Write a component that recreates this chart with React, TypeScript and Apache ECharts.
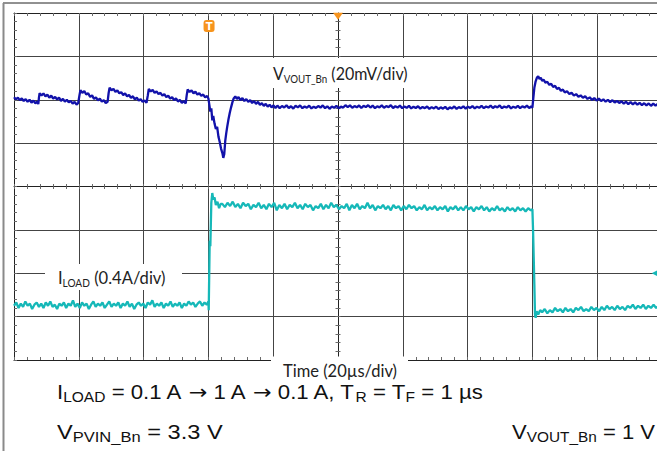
import React, { useEffect, useRef } from "react";
import * as echarts from "echarts";

// Time in µs (20 µs/div), V_VOUT_Bn deviation in mV (20 mV/div)
const voutTrace: number[][] = [
  [0, 1.2], [0.6, 0.2], [1.2, 1.0], [1.8, -0.2], [2.4, 0.6], [3.0, -0.6], [3.6, 0.3], [4.2, -0.9], [4.8, 0.0], [5.4, -1.3], [6.0, -0.4], [6.6, -1.6], [7.2, -0.9], [7.5, -2.0],
  [7.7, 1.0], [7.9, 3.0],
  [8.5, 2.0], [9.1, 2.9], [9.7, 1.6], [10.3, 2.4], [10.9, 1.0], [11.5, 1.9], [12.1, 0.5], [12.7, 1.3], [13.3, 0.1], [13.9, 1.0], [14.5, -0.5], [15.1, 0.4], [15.7, -0.9], [16.3, 0.0], [16.9, -1.2], [17.5, -0.5], [18.1, -1.8], [18.7, -1.0], [19.3, -2.2], [19.8, -1.6],
  [20.2, 2.0], [20.5, 4.4],
  [21.1, 3.2], [21.7, 4.0], [22.3, 2.4], [22.9, 3.0], [23.5, 1.3], [24.1, 2.0], [24.7, 0.4], [25.3, 1.1], [25.9, -0.3], [26.5, 0.5], [27.1, -0.9], [27.7, -0.2], [28.3, -1.5], [28.9, -0.9],
  [29.2, 3.0], [29.5, 5.6],
  [30.1, 4.4], [30.7, 5.0], [31.3, 3.6], [31.9, 4.3], [32.5, 3.0], [33.1, 3.5], [33.7, 2.2], [34.3, 2.9], [34.9, 1.6], [35.5, 2.2], [36.1, 0.9], [36.7, 1.6], [37.3, 0.2], [37.9, 1.0], [38.5, -0.4], [39.1, 0.3], [39.7, -1.0], [40.3, -0.3], [40.9, -1.4],
  [41.3, 2.0], [41.6, 5.0],
  [42.2, 3.8], [42.8, 4.6], [43.4, 3.2], [44.0, 3.9], [44.6, 2.6], [45.2, 3.2], [45.8, 1.9], [46.4, 2.6], [47.0, 1.2], [47.6, 1.9], [48.2, 0.5], [48.8, 1.2], [49.4, -0.2], [50.0, 0.6], [50.6, -0.8], [51.2, -0.1], [51.8, -1.4], [52.4, -0.6], [53.0, -1.7],
  [53.3, 2.0], [53.6, 4.7],
  [54.2, 3.6], [54.8, 4.3], [55.4, 3.0], [56.0, 3.7], [56.6, 2.4], [57.2, 3.0], [57.8, 1.8], [58.4, 2.4], [59.0, 1.1], [59.6, 1.7], [60.0, 0.6],
  [60.3, -2.5], [60.6, -5.5], [60.9, -4.0], [61.2, -9.5], [61.5, -7.5], [61.9, -11.0], [62.3, -13.5], [62.7, -12.5], [63.1, -17.0], [63.5, -19.5], [63.9, -22.5], [64.3, -24.5], [64.6, -26.8], [64.9, -25.0], [65.2, -19.0], [65.5, -15.5], [65.8, -12.5], [66.2, -9.0], [66.6, -6.0], [67.0, -3.5], [67.4, -1.2], [67.8, 0.6], [68.3, 1.5], [68.8, 0.4], [69.3, 1.2], [69.9, -0.2], [70.5, 0.8], [71.1, -0.6], [71.7, 0.3], [72.3, -1.0], [72.9, -0.2], [73.5, -1.5], [74.1, -0.6], [74.7, -1.9], [75.3, -1.0], [75.9, -2.3], [76.5, -1.6], [77.1, -2.8], [77.7, -1.9], [78.3, -3.2], [78.9, -2.3], [79.5, -3.5], [80.1, -2.6], [80.7, -3.8], [81.3, -2.7],
  [82.0, -3.9], [82.7, -2.9], [83.4, -3.6], [84.1, -2.5], [84.8, -3.8], [85.5, -3.0], [86.2, -4.1], [86.9, -2.8], [87.6, -3.5], [88.3, -2.6], [89.0, -3.9], [89.7, -3.1], [90.4, -3.7], [91.1, -2.7], [91.8, -4.0], [92.5, -3.2], [93.2, -3.8], [93.9, -2.9], [94.6, -3.6], [95.3, -2.6], [96.0, -3.9], [96.7, -3.0], [97.4, -4.2], [98.1, -3.1], [98.8, -3.7], [99.5, -2.8], [100.2, -3.9], [100.9, -3.2], [101.6, -3.6], [102.3, -2.5], [103.0, -3.4], [103.7, -2.6], [104.4, -3.7], [105.1, -2.9], [105.8, -3.5], [106.5, -2.6], [107.2, -3.8], [107.9, -2.8], [108.6, -3.4], [109.3, -2.5], [110.0, -3.6], [110.7, -2.7], [111.4, -3.9], [112.1, -3.0], [112.8, -3.5], [113.5, -2.6], [114.2, -3.7], [114.9, -2.9], [115.6, -3.4], [116.3, -2.5], [117.0, -3.8], [117.7, -3.0], [118.4, -3.6], [119.1, -2.7], [119.8, -3.9], [120.5, -3.1], [121.2, -3.7], [121.9, -2.8], [122.6, -4.0], [123.3, -3.2], [124.0, -3.8], [124.7, -3.0], [125.4, -4.1], [126.1, -3.3], [126.8, -3.9], [127.5, -3.1], [128.2, -4.2], [128.9, -3.4], [129.6, -4.0], [130.3, -3.2], [131.0, -4.3], [131.7, -3.5], [132.4, -4.1], [133.1, -3.3], [133.8, -4.4], [134.5, -3.5], [135.2, -4.0], [135.9, -3.1], [136.6, -4.2], [137.3, -3.4], [138.0, -3.9], [138.7, -3.0], [139.4, -4.1], [140.1, -3.2], [140.8, -3.8], [141.5, -2.9], [142.2, -4.0], [142.9, -3.2], [143.6, -3.7], [144.3, -2.8], [145.0, -3.9], [145.7, -3.1], [146.4, -3.6], [147.1, -2.7], [147.8, -3.8], [148.5, -3.0], [149.2, -3.5], [149.9, -2.6], [150.6, -3.9], [151.3, -3.1], [152.0, -3.6], [152.7, -2.7], [153.4, -4.0], [154.1, -3.2], [154.8, -3.7], [155.5, -2.8], [156.2, -3.9], [156.9, -3.0], [157.6, -3.6], [158.3, -2.7], [159.0, -3.8], [159.6, -3.1], [160.0, -3.6],
  [160.3, 1.0], [160.6, 5.5], [161.0, 8.5], [161.4, 10.2], [161.8, 10.8], [162.2, 9.6], [162.6, 10.1], [163.0, 8.8], [163.5, 9.2], [164.0, 7.9], [164.6, 8.3], [165.2, 6.9], [165.8, 7.3], [166.4, 5.9], [167.0, 6.4], [167.6, 5.0], [168.2, 5.5], [168.8, 4.1], [169.4, 4.7], [170.0, 3.4], [170.7, 3.9], [171.4, 2.6], [172.1, 3.2], [172.8, 1.9], [173.5, 2.6], [174.2, 1.4], [174.9, 2.0], [175.6, 0.9], [176.3, 1.6], [177.0, 0.4], [177.7, 1.1], [178.4, -0.1], [179.1, 0.8], [179.8, -0.4], [180.5, 0.5], [181.2, -0.6], [181.9, 0.2], [182.6, -0.9], [183.3, 0.0], [184.0, -1.1], [184.7, -0.2], [185.4, -1.3], [186.1, -0.5], [186.8, -1.5], [187.5, -0.7], [188.2, -1.8], [188.9, -0.9], [189.6, -2.0], [190.3, -1.1], [191.0, -2.1], [191.7, -1.2], [192.4, -2.3], [193.1, -1.4], [193.8, -2.5], [194.5, -1.6], [195.2, -2.6], [195.9, -1.7], [196.6, -2.8], [197.3, -1.8], [198.0, -2.7], [198.7, -1.9], [199.4, -2.8], [200.0, -2.2],
];

// Time in µs, I_LOAD in A (0.4 A/div)
const iloadTrace: number[][] = [
  [0, 0.10], [0.7, 0.13], [1.4, 0.08], [2.1, 0.12], [2.8, 0.09], [3.5, 0.14], [4.2, 0.10], [4.9, 0.12], [5.6, 0.07], [6.3, 0.11], [7.0, 0.13], [7.7, 0.09], [8.4, 0.12], [9.1, 0.08], [9.8, 0.13], [10.5, 0.10], [11.2, 0.14], [11.9, 0.09], [12.6, 0.11], [13.3, 0.07], [14.0, 0.12], [14.7, 0.10], [15.4, 0.13], [16.1, 0.08], [16.8, 0.12], [17.5, 0.10], [18.2, 0.15], [18.9, 0.09], [19.6, 0.12], [20.3, 0.08], [21.0, 0.13], [21.7, 0.10], [22.4, 0.12], [23.1, 0.07], [23.8, 0.11], [24.5, 0.14], [25.2, 0.09], [25.9, 0.12], [26.6, 0.10], [27.3, 0.13], [28.0, 0.08], [28.7, 0.11], [29.4, 0.14], [30.1, 0.09], [30.8, 0.12], [31.5, 0.10], [32.2, 0.13], [32.9, 0.08], [33.6, 0.12], [34.3, 0.10], [35.0, 0.14], [35.7, 0.09], [36.4, 0.12], [37.1, 0.07], [37.8, 0.11], [38.5, 0.13], [39.2, 0.10], [39.9, 0.12], [40.6, 0.08], [41.3, 0.13], [42.0, 0.11], [42.7, 0.15], [43.4, 0.09], [44.1, 0.12], [44.8, 0.10], [45.5, 0.13], [46.2, 0.08], [46.9, 0.12], [47.6, 0.10], [48.3, 0.14], [49.0, 0.09], [49.7, 0.12], [50.4, 0.10], [51.1, 0.13], [51.8, 0.08], [52.5, 0.12], [53.2, 0.10], [53.9, 0.14], [54.6, 0.11], [55.3, 0.13], [56.0, 0.09], [56.7, 0.12], [57.4, 0.14], [58.1, 0.10], [58.8, 0.13], [59.5, 0.11], [60.0, 0.14],
  [60.1, 0.06], [60.4, 0.70], [60.6, 0.65], [60.9, 1.05], [61.2, 1.14], [61.5, 1.08], [61.9, 1.10], [62.3, 1.03], [62.8, 1.06], [63.3, 1.00], [63.8, 1.04],
  [64.3, 1.04], [65.1, 1.01], [65.9, 1.05], [66.7, 1.02], [67.5, 1.06], [68.3, 1.01], [69.1, 1.04], [69.9, 1.00], [70.7, 1.05], [71.5, 1.02], [72.3, 1.04], [73.1, 0.99], [73.9, 1.03], [74.7, 1.01], [75.5, 1.05], [76.3, 1.00], [77.1, 1.03], [77.9, 0.99], [78.7, 1.04], [79.5, 1.01], [80.3, 1.05], [81.1, 0.98], [81.9, 1.03], [82.7, 1.00], [83.5, 1.04], [84.3, 0.99], [85.1, 1.03], [85.9, 1.01], [86.7, 1.05], [87.5, 1.00], [88.3, 1.03], [89.1, 0.99], [89.9, 1.04], [90.7, 1.01], [91.5, 1.03], [92.3, 0.98], [93.1, 1.02], [93.9, 1.00], [94.7, 1.04], [95.5, 0.99], [96.3, 1.03], [97.1, 1.00], [97.9, 1.05], [98.7, 1.01], [99.5, 1.03], [100.3, 0.99], [101.1, 1.02], [101.9, 1.00], [102.7, 1.04], [103.5, 0.98], [104.3, 1.03], [105.1, 1.00], [105.9, 1.04], [106.7, 0.99], [107.5, 1.02], [108.3, 1.00], [109.1, 1.05], [109.9, 1.00], [110.7, 1.03], [111.5, 0.98], [112.3, 1.02], [113.1, 1.00], [113.9, 1.03], [114.7, 0.99], [115.5, 1.02], [116.3, 0.98], [117.1, 1.03], [117.9, 1.00], [118.7, 1.02], [119.5, 0.98], [120.3, 1.02], [121.1, 0.99], [121.9, 1.03], [122.7, 1.00], [123.5, 1.02], [124.3, 0.98], [125.1, 1.01], [125.9, 0.99], [126.7, 1.03], [127.5, 0.98], [128.3, 1.01], [129.1, 0.99], [129.9, 1.02], [130.7, 0.98], [131.5, 1.01], [132.3, 0.99], [133.1, 1.02], [133.9, 0.97], [134.7, 1.01], [135.5, 0.99], [136.3, 1.02], [137.1, 0.98], [137.9, 1.01], [138.7, 0.98], [139.5, 1.02], [140.3, 0.99], [141.1, 1.01], [141.9, 0.97], [142.7, 1.01], [143.5, 0.99], [144.3, 1.02], [145.1, 0.98], [145.9, 1.01], [146.7, 0.97], [147.5, 1.00], [148.3, 0.98], [149.1, 1.02], [149.9, 0.98], [150.7, 1.00], [151.5, 0.97], [152.3, 1.01], [153.1, 0.98], [153.9, 1.00], [154.7, 0.97], [155.5, 1.01], [156.3, 0.98], [157.1, 1.00], [157.9, 0.97], [158.7, 1.00], [159.5, 0.98], [160.0, 0.99],
  [160.2, 0.80], [160.4, 0.55], [160.6, 0.30], [160.8, 0.02], [161.0, -0.01],
  [161.3, 0.05], [161.8, 0.02], [162.4, 0.06], [163.0, 0.04], [163.8, 0.07], [164.6, 0.03], [165.4, 0.06], [166.2, 0.04], [167.0, 0.08], [167.8, 0.05], [168.6, 0.07], [169.4, 0.04], [170.2, 0.08], [171.0, 0.05], [171.8, 0.07], [172.6, 0.04], [173.4, 0.08], [174.2, 0.06], [175.0, 0.09], [175.8, 0.05], [176.6, 0.07], [177.4, 0.05], [178.2, 0.09], [179.0, 0.06], [179.8, 0.08], [180.6, 0.05], [181.4, 0.09], [182.2, 0.06], [183.0, 0.10], [183.8, 0.07], [184.6, 0.09], [185.4, 0.06], [186.2, 0.10], [187.0, 0.07], [187.8, 0.09], [188.6, 0.06], [189.4, 0.10], [190.2, 0.08], [191.0, 0.11], [191.8, 0.07], [192.6, 0.10], [193.4, 0.08], [194.2, 0.11], [195.0, 0.07], [195.8, 0.10], [196.6, 0.08], [197.4, 0.11], [198.2, 0.08], [199.0, 0.10], [200.0, 0.09],
];

// Axis scales
const timeRange = [0, 200]; // µs, 20 µs/div
const timeDiv = 20;
const voutRange = [-120, 40]; // mV, 20 mV/div
const iloadRange = [-0.4, 2.8]; // A, 0.4 A/div

// Markers
const triggerTime = 60.2;
const centerTime = 100;
const iloadRefLevel = 0.4;

const VOUT_COLOR = "#1212aa";
const ILOAD_COLOR = "#16b8b8";
const ORANGE = "#f7941d";

const bottomRich = {
  a: { fontSize: 20, lineHeight: 24, fontFamily: "Liberation Sans", fill: "#111" },
  s: { fontSize: 14, lineHeight: 14, verticalAlign: "bottom", fontFamily: "Liberation Sans", fill: "#111" },
  r: { fontSize: 20, lineHeight: 24, fontFamily: "DejaVu Sans", fill: "#111" },
};
const labelRich = {
  a: { fontSize: 18, lineHeight: 22, fontFamily: "Lato", fill: "#222" },
  b: { fontSize: 11, lineHeight: 12, verticalAlign: "bottom", fontFamily: "Lato", fill: "#222" },
};

export default function App() {
  const ref = useRef<HTMLDivElement>(null);
  useEffect(() => {
    if (!ref.current) return;
    const chart = echarts.init(ref.current, undefined, { renderer: "svg" });
    const tickStyle = { color: "#6a6a6a", width: 1 };
    const baseX: any = {
      type: "value",
      min: timeRange[0],
      max: timeRange[1],
      interval: timeDiv,
      axisLabel: { show: false },
      splitLine: { show: false },
    };
    const baseY: any = {
      type: "value",
      min: -4,
      max: 4,
      interval: 1,
      axisLabel: { show: false },
      splitLine: { show: false },
    };
    const line = { show: true, onZero: false, lineStyle: { color: "#222", width: 1 } };
    const noLine = { show: false, onZero: false };
    const option: any = {
      animation: false,
      backgroundColor: "#ffffff",
      grid: { left: 14, top: 13, right: -5, bottom: 91, outerBoundsMode: "none" },
      xAxis: [
        {
          ...baseX,
          position: "bottom",
          axisLine: line,
          axisTick: { show: true, inside: true, length: 3, lineStyle: tickStyle },
          minorTick: { show: true, splitNumber: 5, length: 3, lineStyle: tickStyle },
          splitLine: { show: true, lineStyle: { color: "#444", width: 1 } },
        },
        {
          ...baseX,
          position: "top",
          axisLine: line,
          axisTick: { show: true, inside: true, length: 3, lineStyle: tickStyle },
          minorTick: { show: true, splitNumber: 5, length: 3, lineStyle: tickStyle },
        },
        {
          ...baseX,
          position: "bottom",
          offset: -173.5,
          axisLine: line,
          axisTick: { show: true, inside: false, length: 2.5, lineStyle: tickStyle },
          minorTick: { show: true, splitNumber: 5, length: 2.5, lineStyle: tickStyle },
        },
        {
          ...baseX,
          position: "bottom",
          offset: -173.5,
          axisLine: noLine,
          axisTick: { show: true, inside: true, length: 2.5, lineStyle: tickStyle },
          minorTick: { show: true, splitNumber: 5, length: 2.5, lineStyle: tickStyle },
        },
      ],
      yAxis: [
        {
          ...baseY,
          position: "left",
          axisLine: line,
          axisTick: { show: true, inside: true, length: 3, lineStyle: tickStyle },
          minorTick: { show: true, splitNumber: 5, length: 3, lineStyle: tickStyle },
          splitLine: { show: true, lineStyle: { color: "#444", width: 1 } },
        },
        {
          ...baseY,
          position: "left",
          offset: -324,
          axisLine: line,
          axisTick: { show: true, inside: false, length: 2.5, lineStyle: tickStyle },
          minorTick: { show: true, splitNumber: 5, length: 2.5, lineStyle: tickStyle },
        },
        {
          ...baseY,
          position: "left",
          offset: -324,
          axisLine: noLine,
          axisTick: { show: true, inside: true, length: 2.5, lineStyle: tickStyle },
          minorTick: { show: true, splitNumber: 5, length: 2.5, lineStyle: tickStyle },
        },
        { type: "value", min: voutRange[0], max: voutRange[1], show: false, splitLine: { show: false }, axisLine: noLine },
        { type: "value", min: iloadRange[0], max: iloadRange[1], show: false, splitLine: { show: false }, axisLine: noLine },
      ],
      series: [
        {
          type: "line",
          name: "VOUT_Bn",
          xAxisIndex: 0,
          yAxisIndex: 3,
          data: voutTrace,
          symbol: "none",
          showSymbol: false,
          lineStyle: { color: VOUT_COLOR, width: 2.3 },
          z: 5,
          markPoint: {
            silent: true,
            data: [
              {
                coord: [triggerTime, 34],
                symbol: "roundRect",
                symbolSize: [11, 12],
                itemStyle: { color: ORANGE },
                label: { show: true, formatter: "T", color: "#fff", fontSize: 10, fontWeight: "bold", fontFamily: "DejaVu Sans" },
              },
              {
                coord: [centerTime, 38.5],
                symbol: "triangle",
                symbolRotate: 180,
                symbolSize: [10, 7],
                itemStyle: { color: ORANGE },
                label: { show: false },
              },
            ],
          },
        },
        {
          type: "line",
          name: "ILOAD",
          xAxisIndex: 0,
          yAxisIndex: 4,
          data: iloadTrace,
          symbol: "none",
          showSymbol: false,
          lineStyle: { color: ILOAD_COLOR, width: 2.3 },
          z: 5,
          markPoint: {
            silent: true,
            data: [
              {
                coord: [198.5, iloadRefLevel],
                symbol: "triangle",
                symbolRotate: 90,
                symbolSize: [11, 11],
                itemStyle: { color: ILOAD_COLOR },
                label: { show: false },
              },
            ],
          },
        },
      ],
      graphic: [
        { type: "line", z: 20, shape: { x1: 3, y1: 3, x2: 657, y2: 3 }, style: { stroke: "#222", lineWidth: 1 } },
        { type: "line", z: 20, shape: { x1: 3.5, y1: 3, x2: 3.5, y2: 451 }, style: { stroke: "#8a8a8a", lineWidth: 2 } },
        { type: "rect", z: 20, shape: { x: 266, y: 58, width: 162, height: 30 }, style: { fill: "#fff" } },
        { type: "rect", z: 20, shape: { x: 45, y: 264, width: 137, height: 26 }, style: { fill: "#fff" } },
        { type: "rect", z: 20, shape: { x: 271, y: 356.5, width: 137, height: 6 }, style: { fill: "#fff" } },
        {
          type: "text",
          z: 21,
          x: 273,
          y: 62,
          scaleX: 0.89,
          style: {
            text: "{a|V}{b|VOUT_Bn}{a| (20mV/div)}",
            align: "left",
            verticalAlign: "top",
            fill: "#222",
            rich: labelRich,
          },
        },
        {
          type: "text",
          z: 21,
          x: 58,
          y: 266,
          scaleX: 0.92,
          style: {
            text: "{a|I}{b|LOAD}{a| (0.4A/div)}",
            align: "left",
            verticalAlign: "top",
            fill: "#222",
            rich: labelRich,
          },
        },
        {
          type: "text",
          z: 21,
          x: 340,
          y: 371,
          style: { text: "Time (20µs/div)", align: "center", verticalAlign: "middle", fontSize: 16.5, fontFamily: "Lato", fill: "#222" },
        },
        {
          type: "text",
          z: 21,
          x: 57,
          y: 380,
          scaleX: 1.11,
          style: {
            text: "{a|I}{s|LOAD}{a| = 0.1 A }{r|→}{a| 1 A }{r|→}{a| 0.1 A, T}{s|R}{a| = T}{s|F}{a| = 1 µs}",
            align: "left",
            verticalAlign: "top",
            fill: "#111",
            rich: bottomRich,
          },
        },
        {
          type: "text",
          z: 21,
          x: 57,
          y: 420,
          scaleX: 1.18,
          style: {
            text: "{a|V}{s|PVIN_Bn}{a| = 3.3 V}",
            align: "left",
            verticalAlign: "top",
            fill: "#111",
            rich: bottomRich,
          },
        },
        {
          type: "text",
          z: 21,
          x: 655,
          y: 420,
          scaleX: 1.1,
          style: {
            text: "{a|V}{s|VOUT_Bn}{a| = 1 V}",
            align: "right",
            verticalAlign: "top",
            fill: "#111",
            rich: bottomRich,
          },
        },
      ],
    };
    chart.setOption(option);
    return () => chart.dispose();
  }, []);
  return (
    <div
      ref={ref}
      style={{ position: "fixed", left: 0, top: 0, width: 657, height: 451, background: "#fff" }}
    />
  );
}
